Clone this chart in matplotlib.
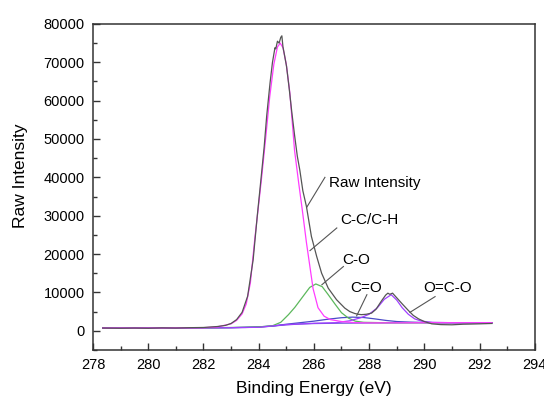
import numpy as np
import matplotlib
matplotlib.use("Agg")
import matplotlib.pyplot as plt
from matplotlib.ticker import MultipleLocator

plt.rcParams['font.family'] = ['Liberation Sans', 'DejaVu Sans']

# raw spectrum
raw_x = [278.35, 279.0, 279.5, 280.0, 280.5, 281.0, 281.5, 282.0, 282.5, 282.8,
         283.0, 283.2, 283.4, 283.6, 283.8, 283.95, 284.08, 284.2, 284.29, 284.41,
         284.5, 284.59, 284.62, 284.68, 284.74, 284.8, 284.84, 284.88, 284.92, 285.01,
         285.1, 285.2, 285.3, 285.4, 285.49, 285.6, 285.73, 285.91, 286.1, 286.28,
         286.52, 286.82, 287.12, 287.3, 287.48, 287.6, 287.72, 287.9, 288.09, 288.25,
         288.45, 288.6, 288.68, 288.75, 288.85, 289.0, 289.2, 289.42, 289.6, 289.79,
         290.0, 290.27, 290.6, 291.0, 291.4, 291.72, 292.0, 292.45]
raw_y = [700, 650, 700, 650, 750, 700, 800, 850, 1100, 1400,
         1900, 2900, 4800, 9000, 18500, 30000, 39300, 48000, 56000, 64500,
         70000, 73800, 73500, 75500, 75000, 76500, 76900, 74000, 72500, 68900,
         63500, 57000, 51000, 45500, 41900, 36500, 32400, 24600, 19400, 15000,
         11100, 8100, 5900, 5000, 4500, 4300, 4200, 4300, 4600, 5600,
         7800, 9300, 9800, 9500, 9800, 8600, 7000, 5300, 4000, 3100,
         2400, 1800, 1600, 1550, 1700, 1750, 1800, 1900]

# background
bg_x = [278.35, 281.0, 282.5, 283.5, 284.0, 284.5, 285.0, 285.5, 286.0, 287.0,
        288.0, 289.0, 290.0, 292.45]
bg_y = [700, 720, 780, 850, 950, 1200, 1550, 1750, 1880, 1980,
        2030, 2060, 2080, 2100]

# C-C/C-H component
cc_x = [278.35, 280.0, 281.0, 282.0, 282.5, 283.0, 283.2, 283.4, 283.55, 283.7,
        283.86, 284.0, 284.1, 284.25, 284.4, 284.55, 284.68, 284.78, 284.88, 285.0,
        285.13, 285.3, 285.45, 285.58, 285.73, 285.85, 285.97, 286.15, 286.37, 286.6,
        287.0, 287.5, 288.0, 290.0, 292.45]
cc_y = [700, 700, 750, 800, 1000, 1800, 2700, 4400, 7000, 12500,
        24000, 33000, 39500, 50000, 61000, 69500, 74000, 75000, 73800, 69500,
        62000, 47000, 38500, 31500, 23000, 17000, 11000, 6000, 3800, 2900,
        2400, 2100, 2050, 2100, 2100]

# C-O component
co_x = [278.35, 282.5, 283.5, 284.0, 284.5, 284.8, 285.08, 285.31, 285.6, 285.85,
        286.07, 286.3, 286.5, 286.76, 287.0, 287.25, 287.5, 287.8, 288.5, 290.0,
        292.45]
co_y = [700, 800, 900, 1000, 1300, 2200, 4200, 6100, 8900, 11300,
        12200, 11500, 9600, 7000, 4700, 3300, 2500, 2200, 2100, 2100,
        2100]

# C=O component
cdo_x = [278.35, 283.0, 284.0, 284.5, 285.0, 285.5, 286.0, 286.5, 287.0, 287.4,
         287.8, 288.2, 288.6, 289.0, 289.5, 290.0, 290.5, 292.45]
cdo_y = [700, 800, 1000, 1250, 1700, 2100, 2500, 3000, 3400, 3550,
         3450, 3100, 2700, 2400, 2250, 2150, 2100, 2100]

# O=C-O component
oco_x = [278.35, 283.0, 284.0, 285.0, 286.0, 286.8, 287.3, 287.7, 288.0, 288.3,
         288.55, 288.8, 289.0, 289.2, 289.42, 289.65, 289.9, 290.3, 291.0, 292.45]
oco_y = [700, 800, 900, 1600, 1950, 2100, 2600, 3400, 4300, 6000,
         8200, 9400, 8000, 6000, 4300, 3100, 2500, 2200, 2100, 2100]

labels = ['Raw Intensity', 'C-C/C-H', 'C-O', 'C=O', 'O=C-O']


def main():
    fig = plt.figure(figsize=(5.44, 3.99), dpi=100)
    ax = fig.add_axes([0.171, 0.123, 0.812, 0.817])

    ax.plot(bg_x, bg_y, color='#6a4fd8', lw=0.9)
    ax.plot(cdo_x, cdo_y, color='#4a4ac8', lw=0.9)
    ax.plot(co_x, co_y, color='#5cb85c', lw=0.9)
    ax.plot(oco_x, oco_y, color='#a040ff', lw=0.9)
    ax.plot(cc_x, cc_y, color='#ff3cff', lw=0.9)
    ax.plot(raw_x, raw_y, color='#555555', lw=0.9)

    ax.set_xlim(278, 294)
    ax.set_ylim(-5000, 80000)
    ax.xaxis.set_major_locator(MultipleLocator(2))
    ax.xaxis.set_minor_locator(MultipleLocator(1))
    ax.yaxis.set_major_locator(MultipleLocator(10000))
    ax.yaxis.set_minor_locator(MultipleLocator(5000))
    ax.tick_params(which='both', direction='in', top=False, right=False,
                   labelsize=10.5, color='#333333', width=1.0)
    ax.tick_params(which='major', length=5, pad=6)
    ax.tick_params(which='minor', length=3)
    for s in ax.spines.values():
        s.set_linewidth(1.1)
        s.set_color('#333333')

    ax.set_xlabel('Binding Energy (eV)', fontsize=12.5)
    ax.set_ylabel('Raw Intensity', fontsize=12.5)
    ax.xaxis.set_label_coords(0.5, -0.095)
    ax.yaxis.set_label_coords(-0.147, 0.535)

    # label text (x, y) and leader line start/end
    txt_pos = [(286.54, 38600), (286.94, 28900), (287.01, 18500), (287.31, 11100), (289.97, 11100)]
    line_from = [(286.40, 40000), (286.83, 26800), (287.07, 16750), (287.92, 9400), (290.39, 8900)]
    line_to = [(285.75, 32300), (285.86, 20900), (286.29, 12000), (287.55, 3900), (289.48, 4800)]
    for lab, tp, lf, lt in zip(labels, txt_pos, line_from, line_to):
        ax.text(tp[0], tp[1], lab, fontsize=11, ha='left', va='center')
        ax.plot([lf[0], lt[0]], [lf[1], lt[1]], color='#555555', lw=0.8)

    fig.savefig('out.png', dpi=100)


if __name__ == "__main__":
    main()
